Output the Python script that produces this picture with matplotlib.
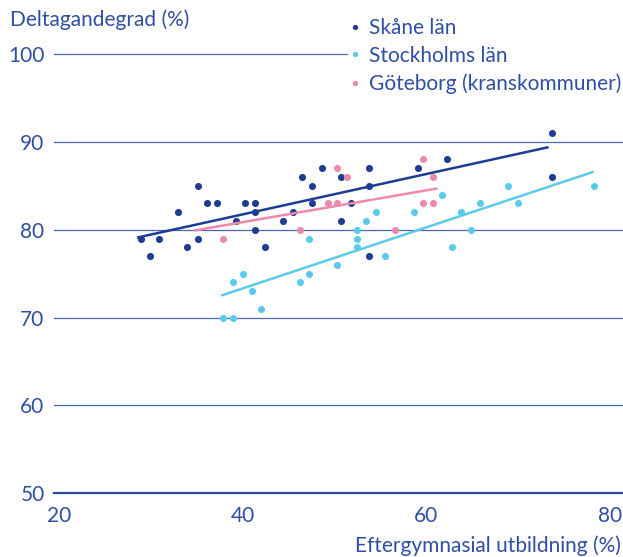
import matplotlib
matplotlib.use("Agg")
import matplotlib.pyplot as plt
from matplotlib.lines import Line2D

# ---- data ----
skane_x = [28.9, 29.9, 30.9, 33.0, 34.0, 35.1, 35.1, 36.1, 37.2, 39.3, 40.3, 41.4, 41.4, 41.4,
           42.4, 44.4, 45.5, 46.5, 47.6, 47.6, 48.6, 50.7, 50.7, 51.8, 53.8, 53.8, 53.8,
           59.1, 62.2, 73.7, 73.7]
skane_y = [79, 77, 79, 82, 78, 85, 79, 83, 83, 81, 83, 83, 82, 80,
           78, 81, 82, 86, 85, 83, 87, 86, 81, 83, 87, 85, 77,
           87, 88, 91, 86]

sthlm_x = [37.9, 38.9, 38.9, 40.0, 41.0, 42.0, 46.2, 47.2, 47.2, 50.3, 52.4, 52.4, 52.4,
           53.4, 54.5, 55.5, 58.6, 61.7, 62.8, 63.8, 64.8, 65.8, 68.9, 70.0, 78.2]
sthlm_y = [70, 70, 74, 75, 73, 71, 74, 75, 79, 76, 80, 79, 78,
           81, 82, 77, 82, 84, 78, 82, 80, 83, 85, 83, 85]

gbg_x = [37.9, 46.2, 49.3, 50.3, 50.3, 51.4, 56.6, 59.6, 60.7, 59.6, 60.7]
gbg_y = [79, 80, 83, 87, 83, 86, 80, 88, 86, 83, 83]

# trend lines (start/end)
skane_trend_x = [28.5, 73.3]
skane_trend_y = [79.1, 89.4]
sthlm_trend_x = [37.65, 78.2]
sthlm_trend_y = [72.5, 86.6]
gbg_trend_x = [34.7, 61.2]
gbg_trend_y = [79.9, 84.7]

series_labels = ["Skåne län", "Stockholms län", "Göteborg (kranskommuner)"]
y_ticks = [50, 60, 70, 80, 90, 100]
x_ticks = [20, 40, 60, 80]

# ---- style ----
C_DARK = "#1f3c94"
C_CYAN = "#5ccbeb"
C_PINK = "#ef88ad"
C_TEXT = "#2f4fa3"
C_GRID = "#4a67b6"

plt.rcParams['font.family'] = ['Lato', 'DejaVu Sans']
FS = 15
W = 'normal'

fig = plt.figure(figsize=(6.23, 5.57), dpi=100)
ax = fig.add_axes([54.3 / 623, (557 - 493.3) / 557, 1 - 54.3 / 623, (493.3 - 54) / 557])
ax.set_xlim(19.51, 81.39)
ax.set_ylim(50, 100)

for s in ax.spines.values():
    s.set_visible(False)

# gridlines
for yv in y_ticks:
    if yv == 50:
        ax.axhline(yv, color="#2c4a9e", lw=1.6, zorder=1, clip_on=False)
    elif yv == 100:
        ax.axhline(yv, xmin=0, xmax=(347 - 54.3) / (623 - 54.3), color=C_GRID, lw=0.9,
                   zorder=1, clip_on=False)
    else:
        ax.axhline(yv, color=C_GRID, lw=0.9, zorder=1)

ax.set_yticks(y_ticks)
ax.set_xticks(x_ticks)
ax.tick_params(axis='both', length=0, labelsize=FS, labelcolor=C_TEXT)
ax.tick_params(axis='y', pad=7.0)
ax.tick_params(axis='x', pad=9.5)
for t in ax.get_xticklabels() + ax.get_yticklabels():
    t.set_fontweight(W)

ms = 26
ax.scatter(skane_x, skane_y, s=ms, color=C_DARK, zorder=3, linewidths=0)
ax.scatter(sthlm_x, sthlm_y, s=ms, color=C_CYAN, zorder=3, linewidths=0)
ax.scatter(gbg_x, gbg_y, s=ms, color=C_PINK, zorder=3, linewidths=0)

ax.plot(skane_trend_x, skane_trend_y, color=C_DARK, lw=1.8, zorder=4, solid_capstyle='butt')
ax.plot(sthlm_trend_x, sthlm_trend_y, color=C_CYAN, lw=1.8, zorder=4, solid_capstyle='butt')
ax.plot(gbg_trend_x, gbg_trend_y, color=C_PINK, lw=1.8, zorder=4, solid_capstyle='butt')

# legend
handles = [Line2D([], [], marker='o', ls='none', markersize=3.8, color=c, markeredgewidth=0)
           for c in (C_DARK, C_CYAN, C_PINK)]
leg = fig.legend(handles, series_labels, loc='upper left',
                 bbox_to_anchor=(349 / 623, 1 - 18 / 557), frameon=False,
                 prop={'size': FS, 'weight': W}, handlelength=0.55, handletextpad=0.4,
                 labelspacing=0.37, borderaxespad=0, borderpad=0)
for t in leg.get_texts():
    t.set_color(C_TEXT)

fig.text(10 / 623, 1 - 20 / 557, "Deltagandegrad (%)", fontsize=FS, color=C_TEXT,
         ha='left', va='center', fontweight=W)
fig.text(621 / 623, 1 - 546 / 557, "Eftergymnasial utbildning (%)", fontsize=FS,
         color=C_TEXT, ha='right', va='center', fontweight=W)

fig.savefig("out.png", dpi=100)
